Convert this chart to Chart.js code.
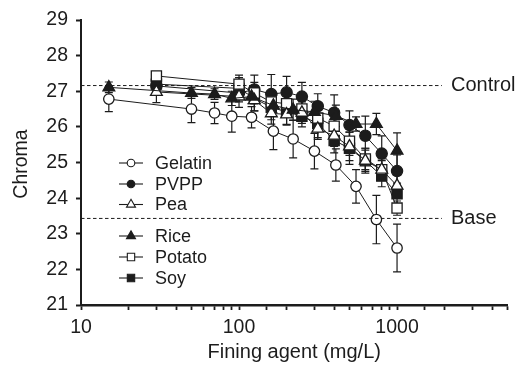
<!DOCTYPE html>
<html>
<head>
<meta charset="utf-8">
<script src="https://cdn.jsdelivr.net/npm/chart.js@4/dist/chart.umd.min.js"></script>
<style>
  html, body { margin: 0; padding: 0; background: #fff; }
  #wrap { width: 516px; height: 370px; }
</style>
</head>
<body>
<div id="wrap"><canvas id="c" width="516" height="370"></canvas></div>
<script>
// Doses (mg/L) used for each group of fining agents
const doseA = [15, 50, 70, 90, 120, 165, 220, 300, 410, 550, 740, 1000];
const doseB = [30, 100, 125, 160, 200, 250, 315, 400, 500, 630, 800, 1000];

// Mean chroma and standard deviation per agent
const gelatin   = [26.78, 26.50, 26.39, 26.30, 26.27, 25.88, 25.66, 25.32, 24.93, 24.33, 23.40, 22.60];
const gelatinSd = [0.35, 0.38, 0.30, 0.45, 0.30, 0.52, 0.53, 0.50, 0.45, 0.47, 0.68, 0.67];
const rice      = [27.11, 26.95, 26.92, 26.80, 26.85, 26.60, 26.48, 26.42, 26.31, 26.08, 26.08, 25.33];
const riceSd    = [0.15, 0.15, 0.15, 0.20, 0.20, 0.30, 0.30, 0.30, 0.30, 0.20, 0.30, 0.50];
const pvpp      = [27.15, 26.95, 27.05, 26.92, 26.97, 26.85, 26.58, 26.40, 26.05, 25.75, 25.25, 24.76];
const pvppSd    = [0.20, 0.25, 0.40, 0.55, 0.45, 0.40, 0.35, 0.50, 0.40, 0.55, 0.50, 0.45];
const pea       = [26.98, 26.85, 26.75, 26.38, 26.35, 26.40, 25.95, 25.75, 25.45, 25.05, 24.80, 24.35];
const peaSd     = [0.30, 0.30, 0.30, 0.30, 0.30, 0.30, 0.30, 0.30, 0.40, 0.35, 0.30, 0.30];
const potato    = [27.43, 27.20, 26.95, 26.70, 26.65, 26.50, 26.25, 26.02, 25.60, 25.10, 24.80, 23.72];
const potatoSd  = [0.10, 0.25, 0.30, 0.30, 0.30, 0.30, 0.30, 0.30, 0.40, 0.30, 0.25, 0.20];
const soy       = [27.20, 27.08, 26.80, 26.55, 26.42, 26.30, 26.10, 25.62, 25.40, 25.05, 24.62, 24.12];
const soySd     = [0.20, 0.30, 0.35, 0.35, 0.35, 0.30, 0.40, 0.35, 0.45, 0.30, 0.30, 0.30];

// Reference levels
const controlLevel = 27.16;
const baseLevel = 23.43;

// Axis ticks
const yTicks = [21, 22, 23, 24, 25, 26, 27, 28, 29];
const xLabels = [10, 100, 1000];

const FONT = '"Liberation Sans", Arial, Helvetica, sans-serif';
const INK = '#1c1c1c';

function pts(xs, ys) { return xs.map((x, i) => ({ x: x, y: ys[i] })); }

function series(label, xs, ys, sd, style, filled, radius) {
  return {
    label: label,
    data: pts(xs, ys),
    sd: sd,
    showLine: true,
    borderColor: INK,
    borderWidth: 1,
    pointStyle: style,
    pointRadius: radius,
    pointHoverRadius: radius,
    pointBackgroundColor: filled ? INK : '#ffffff',
    pointBorderColor: INK,
    pointBorderWidth: 1.3,
    legendFilled: filled
  };
}

function refLine(level) {
  return {
    label: '',
    data: [{ x: 10, y: level }, { x: 1920, y: level }],
    showLine: true,
    borderColor: INK,
    borderWidth: 1,
    borderDash: [3.5, 2.5],
    pointRadius: 0,
    isRef: true
  };
}

const datasets = [
  refLine(controlLevel),
  refLine(baseLevel),
  series('Gelatin', doseA, gelatin, gelatinSd, 'circle', false, 5.2),
  series('Rice', doseA, rice, riceSd, 'triangle', true, 6.8),
  series('Pea', doseB, pea, peaSd, 'triangle', false, 6.8),
  series('Potato', doseB, potato, potatoSd, 'rect', false, 7.2),
  series('Soy', doseB, soy, soySd, 'rect', true, 7.2),
  series('PVPP', doseB, pvpp, pvppSd, 'circle', true, 5.6)
];

// Legend rows: label, y position
const legendRows = [
  ['Gelatin', 163], ['PVPP', 184], ['Pea', 204.5],
  ['Rice', 236], ['Potato', 257], ['Soy', 278]
];

const errorBars = {
  id: 'errorBars',
  beforeDatasetsDraw(chart) {
    const ctx = chart.ctx, xs = chart.scales.x, ys = chart.scales.y;
    ctx.save();
    ctx.strokeStyle = INK;
    ctx.lineWidth = 1.2;
    chart.data.datasets.forEach(ds => {
      if (!ds.sd) return;
      ds.data.forEach((p, i) => {
        const px = xs.getPixelForValue(p.x);
        const top = ys.getPixelForValue(p.y + ds.sd[i]);
        const bot = ys.getPixelForValue(p.y - ds.sd[i]);
        ctx.beginPath();
        ctx.moveTo(px, top); ctx.lineTo(px, bot);
        ctx.moveTo(px - 4, top); ctx.lineTo(px + 4, top);
        ctx.moveTo(px - 4, bot); ctx.lineTo(px + 4, bot);
        ctx.stroke();
      });
    });
    ctx.restore();
  }
};

const annotations = {
  id: 'annotations',
  afterDraw(chart) {
    const ctx = chart.ctx, ys = chart.scales.y, area = chart.chartArea;
    ctx.save();
    ctx.fillStyle = INK;
    ctx.textBaseline = 'middle';
    ctx.textAlign = 'left';
    ctx.font = '20px ' + FONT;
    ctx.fillText('Control', 451, ys.getPixelForValue(controlLevel));
    ctx.fillText('Base', 451, ys.getPixelForValue(baseLevel));

    // Axis titles
    ctx.textAlign = 'center';
    ctx.fillText('Fining agent (mg/L)', (area.left + area.right) / 2, 352);
    ctx.save();
    ctx.translate(22, 164);
    ctx.rotate(-Math.PI / 2);
    ctx.font = '19.5px ' + FONT;
    ctx.fillText('Chroma', 0, 0);
    ctx.restore();

    // Legend
    ctx.font = '18px ' + FONT;
    legendRows.forEach(([name, y]) => {
      const ds = chart.data.datasets.find(d => d.label === name);
      ctx.strokeStyle = INK;
      ctx.lineWidth = 1.1;
      ctx.beginPath();
      ctx.moveTo(119, y); ctx.lineTo(143, y);
      ctx.stroke();
      ctx.fillStyle = ds.legendFilled ? INK : '#ffffff';
      const r = ds.pointStyle === 'circle' ? 3.8 : 5.2;
      Chart.helpers.drawPoint(ctx, { pointStyle: ds.pointStyle, radius: r, rotation: 0, borderWidth: 1 }, 131, y);
      ctx.fillStyle = INK;
      ctx.textAlign = 'left';
      ctx.fillText(name, 155, y + 1);
    });
    ctx.restore();
  }
};

new Chart(document.getElementById('c'), {
  type: 'scatter',
  data: { datasets: datasets },
  options: {
    responsive: false,
    devicePixelRatio: 1,
    animation: false,
    events: [],
    layout: { padding: { top: 20, right: 5, left: 0, bottom: 0 } },
    plugins: { legend: { display: false }, tooltip: { enabled: false } },
    scales: {
      x: {
        type: 'logarithmic',
        min: 10,
        max: 5000,
        border: { display: true, color: INK, width: 2.4 },
        grid: { drawOnChartArea: false, drawTicks: true, tickLength: 5, tickColor: INK, tickWidth: 1.8 },
        ticks: {
          autoSkip: false,
          maxRotation: 0,
          padding: 6,
          color: INK,
          font: { family: FONT, size: 19.5 },
          callback: v => (xLabels.includes(v) ? String(v) : '')
        },
        afterFit: s => { s.height = 65; }
      },
      y: {
        min: 21,
        max: 29,
        border: { display: true, color: INK, width: 2 },
        grid: { drawOnChartArea: false, drawTicks: true, tickLength: 5, tickColor: INK, tickWidth: 2 },
        afterBuildTicks: s => { s.ticks = yTicks.map(v => ({ value: v })); },
        ticks: {
          padding: 8,
          color: INK,
          font: { family: FONT, size: 19.5 }
        },
        afterFit: s => { s.width = 81; }
      }
    }
  },
  plugins: [errorBars, annotations]
});
</script>
</body>
</html>
